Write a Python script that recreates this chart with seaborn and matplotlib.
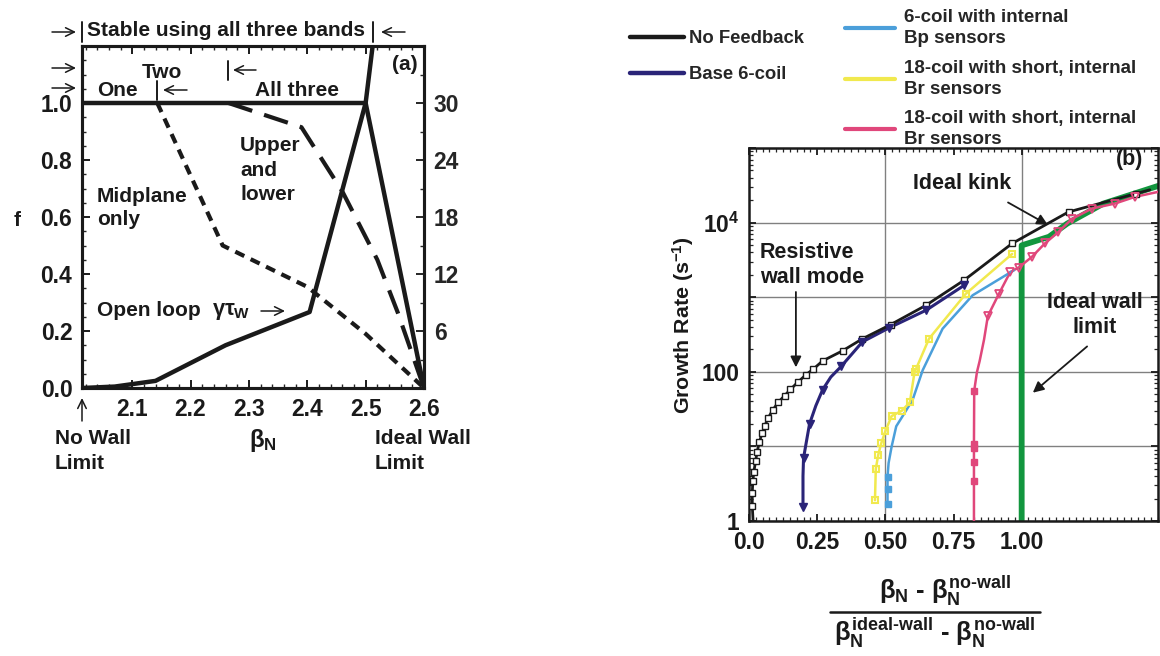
import numpy as np
import pandas as pd
import matplotlib
matplotlib.use("Agg")
import matplotlib.pyplot as plt
import seaborn as sns
from matplotlib import font_manager
from matplotlib.lines import Line2D
from matplotlib.patches import FancyArrowPatch
from matplotlib.ticker import MultipleLocator, LogLocator, FuncFormatter, NullFormatter

# ---------------- panel (a): stabilised fraction f vs beta_N ----------------
beta_all = [2.014, 2.50, 2.60]
f_all = [1.0, 1.0, 0.0]
beta_mid = [2.143, 2.255, 2.40, 2.50, 2.60]
f_mid = [1.0, 0.50, 0.355, 0.19, 0.0]
beta_ul = [2.265, 2.39, 2.46, 2.52, 2.555, 2.60]
f_ul = [1.0, 0.915, 0.69, 0.45, 0.265, 0.0]
beta_open = [2.014, 2.07, 2.14, 2.26, 2.404, 2.50, 2.514]
gtw_open = [0.0, 0.15, 0.75, 4.5, 8.0, 30.0, 37.0]
a_xticks = [2.1, 2.2, 2.3, 2.4, 2.5, 2.6]
a_fticks = [0.0, 0.2, 0.4, 0.6, 0.8, 1.0]
a_gticks = [6, 12, 18, 24, 30]

# ---------------- panel (b): growth rate vs normalised beta ----------------
nf_x = [0.015, 0.012, 0.012, 0.014, 0.018, 0.024, 0.030, 0.038, 0.048, 0.058, 0.070,
        0.088, 0.107, 0.131, 0.152, 0.178, 0.21, 0.235, 0.27, 0.343, 0.416, 0.52,
        0.648, 0.788, 0.965, 1.172, 1.42, 1.47]
nf_y = [1.0, 1.6, 2.4, 3.4, 4.6, 6.3, 8.5, 11.5, 15, 19, 24, 31, 39, 48, 58, 72, 92,
        108, 140, 191, 277, 430, 775, 1680, 5250, 13900, 24500, 27500]

b6_x = [0.198, 0.198, 0.200, 0.210, 0.222, 0.245, 0.27, 0.30, 0.338, 0.416, 0.515, 0.65, 0.79]
b6_y = [1.56, 4.0, 6.95, 11.3, 20, 35, 57.5, 85, 118, 252, 390, 670, 1450]

bp_x = [0.508, 0.508, 0.508, 0.512, 0.523, 0.54, 0.565, 0.60, 0.637, 0.71, 0.82, 0.971]
bp_y = [1.67, 2.69, 3.93, 6.0, 9.9, 18.6, 26, 42, 105, 378, 1060, 2290]

yl_x = [0.462, 0.465, 0.474, 0.485, 0.50, 0.523, 0.56, 0.59, 0.607, 0.613, 0.66, 0.795, 0.965]
yl_y = [1.9, 5.0, 7.7, 11, 16, 25.5, 30, 39, 99, 110, 277, 1110, 3800]

pk_x = [0.825, 0.825, 0.825, 0.825, 0.825, 0.826, 0.836, 0.846, 0.862, 0.876, 0.916,
        0.958, 0.989, 1.037, 1.085, 1.135, 1.184, 1.257, 1.342, 1.415, 1.5]
pk_y = [1.0, 3.47, 6.1, 9.5, 10.8, 56, 99, 140, 270, 560, 1100, 2170, 2500, 3460,
        5250, 7500, 11200, 15400, 18000, 22100, 25800]

gr_x = [1.0, 1.0, 1.1, 1.167, 1.3, 1.5]
gr_y = [0.9, 4950, 6450, 9700, 18000, 31000]

b_xticks = [0.0, 0.25, 0.50, 0.75, 1.00]
b_xticklabels = ["0.0", "0.25", "0.50", "0.75", "1.00"]

legend_left = ["No Feedback", "Base 6-coil"]
legend_right = ["6-coil with internal\nBp sensors",
                "18-coil with short, internal\nBr sensors",
                "18-coil with short, internal\nBr sensors"]

INK = "#1a1a1a"
NAVY = "#2a2478"
BLUE = "#4b9fda"
YELLOW = "#f1e94e"
PINK = "#e0477b"
GREEN = "#12963e"

sns.set_style("ticks")
names = {f.name for f in font_manager.fontManager.ttflist}
if "Liberation Sans Narrow" in names:
    FAM, S = "Liberation Sans Narrow", 1.0
else:
    FAM, S = "Liberation Sans", 0.82
plt.rcParams["font.family"] = [FAM, "DejaVu Sans"]
plt.rcParams["font.weight"] = "bold"
plt.rcParams["mathtext.fontset"] = "custom"
plt.rcParams["mathtext.rm"] = FAM + ":bold"
plt.rcParams["mathtext.bf"] = FAM + ":bold"
plt.rcParams["mathtext.it"] = FAM
plt.rcParams["mathtext.sf"] = FAM + ":bold"

W, H = 1160, 656
fig = plt.figure(figsize=(W / 100, H / 100), dpi=100)


def px(x, y):
    return x / W, 1 - y / H


def ftext(x, y, s, **kw):
    kw.setdefault("ha", "center")
    kw.setdefault("va", "center")
    kw.setdefault("color", INK)
    kw.setdefault("weight", "bold")
    fig.text(*px(x, y), s, **kw)


def fbar(x, y0, y1, lw=1.4):
    fig.add_artist(Line2D([x / W, x / W], [1 - y0 / H, 1 - y1 / H], color=INK, lw=lw))


def farrow(x0, y0, x1, y1):
    fig.add_artist(FancyArrowPatch(px(x0, y0), px(x1, y1), transform=fig.transFigure,
                                   arrowstyle="->,head_length=0.45,head_width=0.22",
                                   mutation_scale=14, lw=1.1, color=INK,
                                   shrinkA=0, shrinkB=0))


# ======================= panel (a) =======================
axa = fig.add_axes([82 / W, 1 - 388 / H, (424 - 82) / W, (388 - 46) / H])
axa.set_xlim(2.014, 2.6)
axa.set_ylim(0, 1.2)
sns.lineplot(x=beta_all, y=f_all, ax=axa, color=INK, lw=3.2, sort=False, estimator=None)
sns.lineplot(x=beta_mid, y=f_mid, ax=axa, color=INK, lw=3.0, sort=False, estimator=None,
             linestyle=(0, (2.4, 1.7)))
sns.lineplot(x=beta_ul, y=f_ul, ax=axa, color=INK, lw=3.0, sort=False, estimator=None,
             linestyle=(0, (6.0, 3.0)))
axr = axa.twinx()
axr.set_ylim(0, 36)
sns.lineplot(x=beta_open, y=gtw_open, ax=axr, color=INK, lw=3.2, sort=False, estimator=None)
for ax in (axa, axr):
    ax.set_xlabel("")
    ax.set_ylabel("")
    for sp in ax.spines.values():
        sp.set_linewidth(2.2)
        sp.set_color(INK)

axa.set_xticks(a_xticks)
axa.set_xticklabels([f"{v:.1f}" for v in a_xticks])
axa.set_yticks(a_fticks)
axa.set_yticklabels([f"{v:.1f}" for v in a_fticks])
axa.xaxis.set_minor_locator(MultipleLocator(0.02))
axa.yaxis.set_minor_locator(MultipleLocator(0.05))
axa.tick_params(which="major", direction="in", length=6, width=1.4, labelsize=20 * S,
                pad=7, top=True, right=False, colors=INK)
axa.tick_params(which="minor", direction="in", length=3, width=1.0, top=True, right=False)
axr.set_yticks(a_gticks)
axr.set_yticklabels([str(v) for v in a_gticks])
axr.yaxis.set_minor_locator(MultipleLocator(3))
axr.tick_params(which="major", direction="in", length=6, width=1.4, labelsize=20 * S, pad=7)
axr.tick_params(which="minor", direction="in", length=3, width=1.0)
for lab in axa.get_xticklabels() + axa.get_yticklabels() + axr.get_yticklabels():
    lab.set_fontweight("bold")

fa = 18.3 * S
# band-range markers above the frame
ftext(226, 31, "Stable using all three bands", fontsize=fa)
fbar(82, 22, 42)
fbar(373, 22, 42)
farrow(52, 32, 76, 32)
farrow(405, 32, 381, 32)
farrow(52, 68, 76, 68)
farrow(52, 88, 76, 88)
ftext(162, 72, "Two", fontsize=fa)
fbar(228, 61, 80)
farrow(256, 70, 233, 70)
ftext(117, 91, "One", fontsize=fa)
fbar(157, 81, 100)
farrow(187, 90, 163, 90)
ftext(297, 90, "All three", fontsize=fa)
ftext(405, 65, "(a)", fontsize=fa)
ftext(240, 170, "Upper\nand\nlower", fontsize=fa, ha="left", linespacing=1.35)
ftext(97, 208, "Midplane\nonly", fontsize=fa, ha="left", linespacing=1.3)
ftext(97, 310, "Open loop", fontsize=fa, ha="left")
ftext(212, 312, r"$\gamma\tau_{\mathbf{W}}$", fontsize=fa * 1.05, ha="left")
farrow(261, 311, 285, 311)
ftext(17, 220, "f", fontsize=fa)
farrow(82, 421, 82, 398)
ftext(55, 451, "No Wall\nLimit", fontsize=fa, ha="left", linespacing=1.35)
ftext(263, 441, r"$\beta_{\mathbf{N}}$", fontsize=fa * 1.15)
ftext(375, 451, "Ideal Wall\nLimit", fontsize=fa, ha="left", linespacing=1.35)

# ======================= panel (b) =======================
axb = fig.add_axes([749 / W, 1 - 521 / H, (1158 - 749) / W, (521 - 148) / H])
axb.set_yscale("log")
axb.set_xlim(0, 1.5)
axb.set_ylim(1, 1e5)
axb.yaxis.set_major_locator(LogLocator(base=10, numticks=12))
axb.yaxis.set_minor_locator(LogLocator(base=10, subs=np.arange(2, 10), numticks=12))
axb.yaxis.set_minor_formatter(NullFormatter())
ylab = {1: "1", 100: "100", 10000: r"$\mathbf{10^{4}}$"}
axb.yaxis.set_major_formatter(FuncFormatter(lambda v, p: ylab.get(int(round(v)), "")))
axb.grid(axis="y", which="major", color="#808080", lw=1.0)
for gx in np.arange(0.5, 1.5, 0.5):
    axb.axvline(gx, color="#808080", lw=1.0, zorder=0.5)
axb.set_xticks(b_xticks)
axb.set_xticklabels(b_xticklabels)
axb.xaxis.set_minor_locator(MultipleLocator(0.025))
axb.tick_params(which="major", direction="in", length=5, width=1.3, labelsize=20 * S,
                pad=7, top=True, right=True, colors=INK)
axb.tick_params(which="minor", direction="in", length=3, width=0.9, top=True, right=True)
for lab in axb.get_xticklabels() + axb.get_yticklabels():
    lab.set_fontweight("bold")
for sp in axb.spines.values():
    sp.set_linewidth(1.8)
    sp.set_color(INK)

line_kw = dict(sort=False, estimator=None, ax=axb)
sns.lineplot(x=gr_x, y=gr_y, color=GREEN, lw=4.2, zorder=2, **line_kw)
sns.lineplot(x=pk_x, y=pk_y, color=PINK, lw=1.8, zorder=3, **line_kw)
sns.lineplot(x=bp_x, y=bp_y, color=BLUE, lw=1.8, zorder=3, **line_kw)
sns.lineplot(x=yl_x, y=yl_y, color=YELLOW, lw=1.8, zorder=3, **line_kw)
sns.lineplot(x=b6_x, y=b6_y, color=NAVY, lw=2.2, zorder=4, **line_kw)
sns.lineplot(x=nf_x, y=nf_y, color=INK, lw=2.0, zorder=5, **line_kw)
axb.set_xlabel("")
axb.set_ylabel("")

# data-point symbols
axb.plot(nf_x[1:-1], nf_y[1:-1], ls="none", marker="s", ms=5, mfc="white", mec=INK, mew=1.0, zorder=6)
b6_mk = [0, 2, 4, 6, 8, 9, 10, 11, 12]
axb.plot([b6_x[i] for i in b6_mk], [b6_y[i] for i in b6_mk], ls="none", marker="v", ms=6,
         color=NAVY, zorder=6)
axb.plot(bp_x[:3], bp_y[:3], ls="none", marker="s", ms=5, color=BLUE, zorder=6)
axb.plot(yl_x, yl_y, ls="none", marker="s", ms=5, mfc="none", mec=YELLOW, mew=1.5, zorder=6)
axb.plot(pk_x[1:6], pk_y[1:6], ls="none", marker="s", ms=5, color=PINK, zorder=6)
axb.plot(pk_x[9:-1], pk_y[9:-1], ls="none", marker="v", ms=6, mfc="none", mec=PINK, mew=1.3, zorder=6)

fb = 18.9 * S
ftext(1130, 160, "(b)", fontsize=fb)
ftext(962, 183, "Ideal kink", fontsize=fb)
ftext(760, 265, "Resistive\nwall mode", fontsize=fb, ha="left", linespacing=1.2)
ftext(1095, 315, "Ideal wall\nlimit", fontsize=fb, linespacing=1.3)
arrow = dict(arrowstyle="-|>", color=INK, lw=1.3, mutation_scale=16, shrinkA=0, shrinkB=0)
axb.annotate("", xy=(1.096, 10 ** 3.97), xytext=(0.95, 10 ** 4.27), arrowprops=arrow)
axb.annotate("", xy=(0.172, 10 ** 2.06), xytext=(0.172, 10 ** 3.07), arrowprops=arrow)
axb.annotate("", xy=(1.041, 10 ** 1.72), xytext=(1.24, 10 ** 2.34), arrowprops=arrow)

ftext(683, 325, r"Growth Rate (s$^{\mathbf{-1}}$)", fontsize=18.8 * S, rotation=90)

# normalised-beta label drawn as a fraction
fx = 22.5 * S
ftext(945, 608, r"$\beta_{\mathbf{N}}$ - $\beta_{\mathbf{N}}^{\text{no-wall}}$", fontsize=fx,
      va="bottom")
fig.add_artist(Line2D([830 / W, 1040 / W], [1 - 612 / H, 1 - 612 / H], color=INK, lw=1.8))
ftext(935, 616, r"$\beta_{\mathbf{N}}^{\text{ideal-wall}}$ - $\beta_{\mathbf{N}}^{\text{no-wall}}$",
      fontsize=fx, va="top")

# legends above panel (b)
hl = [Line2D([], [], color=INK, lw=3.2), Line2D([], [], color=NAVY, lw=3.2)]
leg1 = fig.legend(hl, legend_left, loc="upper left", bbox_to_anchor=px(630, 30),
                  frameon=False, fontsize=16.2 * S, handlelength=2.95, handletextpad=0.25,
                  labelspacing=1.03, borderpad=0, borderaxespad=0)
hr = [Line2D([], [], color=BLUE, lw=3.0), Line2D([], [], color=YELLOW, lw=3.0),
      Line2D([], [], color=PINK, lw=3.0)]
leg2 = fig.legend(hr, legend_right, loc="upper left", bbox_to_anchor=px(845, 9),
                  frameon=False, fontsize=16.5 * S, handlelength=2.65, handletextpad=0.5,
                  labelspacing=0.68, borderpad=0, borderaxespad=0)
for leg in (leg1, leg2):
    for t in leg.get_texts():
        t.set_fontweight("bold")
for t in leg2.get_texts():
    t.set_linespacing(1.3)

fig.savefig("out.png", dpi=100, facecolor="white")
